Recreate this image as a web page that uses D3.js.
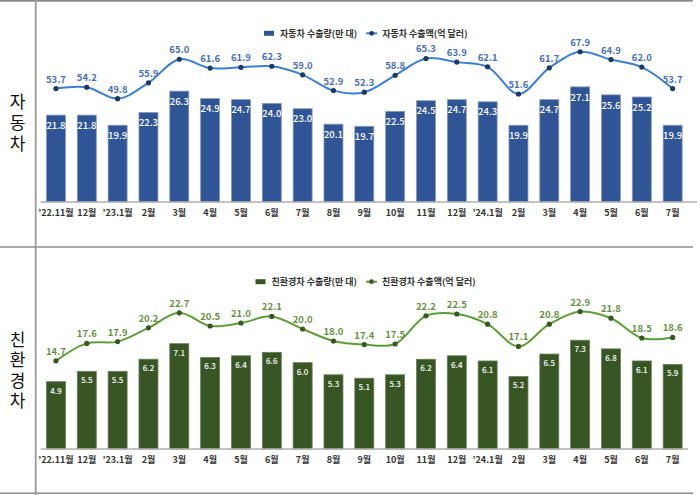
<!DOCTYPE html>
<html><head><meta charset="utf-8">
<script src="https://cdn.jsdelivr.net/npm/d3@7"></script>
<style>
html,body{margin:0;padding:0;background:#fff;}
svg{display:block;font-family:"Noto Sans CJK KR","Noto Sans",sans-serif;}
</style></head>
<body><svg id="c" width="700" height="495"></svg>
<script>
const months = ["’22.11월","12월","’23.1월","2월","3월","4월","5월","6월","7월","8월","9월","10월","11월","12월","’24.1월","2월","3월","4월","5월","6월","7월"];
const carVolume = [21.8,21.8,19.9,22.3,26.3,24.9,24.7,24.0,23.0,20.1,19.7,22.5,24.5,24.7,24.3,19.9,24.7,27.1,25.6,25.2,19.9];
const carValue  = [53.7,54.2,49.8,55.9,65.0,61.6,61.9,62.3,59.0,52.9,52.3,58.8,65.3,63.9,62.1,51.6,61.7,67.9,64.9,62.0,53.7];
const ecoVolume = [4.9,5.5,5.5,6.2,7.1,6.3,6.4,6.6,6.0,5.3,5.1,5.3,6.2,6.4,6.1,5.2,6.5,7.3,6.8,6.1,5.9];
const ecoValue  = [14.7,17.6,17.9,20.2,22.7,20.5,21.0,22.1,20.0,18.0,17.4,17.5,22.2,22.5,20.8,17.1,20.8,22.9,21.8,18.5,18.6];
const sideLabels = ["자동차","친환경차"];
const legendCar = ["자동차 수출량(만 대)","자동차 수출액(억 달러)"];
const legendEco = ["친환경차 수출량(만 대)","친환경차 수출액(억 달러)"];

const svg = d3.select("#c");
const idx = months.map((m,i)=>i);
const x = d3.scaleBand().domain(idx).range([40.6,688]).paddingInner(0.384).paddingOuter(0.19);

// frame
const frameCol = "#8c8c8c";
svg.append("line").attr("x1",0).attr("x2",693).attr("y1",0.8).attr("y2",0.8).attr("stroke",frameCol).attr("stroke-width",1.8);
svg.append("line").attr("x1",0).attr("x2",693).attr("y1",247).attr("y2",247).attr("stroke",frameCol).attr("stroke-width",1.6);
svg.append("line").attr("x1",0).attr("x2",693).attr("y1",493.3).attr("y2",493.3).attr("stroke",frameCol).attr("stroke-width",1.6);
svg.append("line").attr("x1",35.7).attr("x2",35.7).attr("y1",0).attr("y2",495).attr("stroke","#9a9a9a").attr("stroke-width",1.8);

function panel(cfg){
  const g = svg.append("g");
  const yB = d3.scaleLinear().domain(cfg.barDom).range([cfg.base, cfg.top]);
  const yL = d3.scaleLinear().domain(cfg.lineDom).range([cfg.base, cfg.top]);
  // bars
  g.selectAll("rect.bar").data(cfg.vol).join("rect").attr("class","bar")
    .attr("x",(d,i)=>x(i)).attr("width",x.bandwidth())
    .attr("y",d=>yB(d)).attr("height",d=>cfg.base-yB(d))
    .attr("fill",cfg.barCol).attr("stroke",cfg.barStroke).attr("stroke-width",0.8);
  g.selectAll("text.bl").data(cfg.vol).join("text").attr("class","bl")
    .attr("x",(d,i)=>x(i)+x.bandwidth()/2).attr("y",d=>yB(d)+cfg.barLabOff)
    .attr("text-anchor","middle").attr("dominant-baseline","central")
    .attr("fill","#fff").attr("font-size",cfg.barLabSize).attr("font-weight",500)
    .text(d=>d.toFixed(1));
  // axis
  const ax = g.append("g").attr("transform",`translate(0,${cfg.base})`)
    .call(d3.axisBottom(x).tickSize(0).tickFormat(i=>months[i]));
  ax.select(".domain").attr("stroke","#b0b0b0").attr("stroke-width",1.5).attr("d",`M40.6,0H${cfg.axisEnd}`);
  ax.selectAll("text").attr("y",cfg.labY-cfg.base).attr("dy","0.35em")
    .attr("font-size",9).attr("font-weight",700).attr("fill","#333")
    .attr("font-family","\"Noto Sans CJK KR\",sans-serif");
  // line
  const line = d3.line().x((d,i)=>x(i)+x.bandwidth()/2).y(d=>yL(d)).curve(d3.curveCatmullRom.alpha(0.5));
  g.append("path").datum(cfg.val).attr("d",line).attr("fill","none").attr("stroke",cfg.lineCol).attr("stroke-width",2);
  g.selectAll("circle.pt").data(cfg.val).join("circle").attr("class","pt")
    .attr("cx",(d,i)=>x(i)+x.bandwidth()/2).attr("cy",d=>yL(d)).attr("r",2.6).attr("fill",cfg.dotCol);
  g.selectAll("text.ll").data(cfg.val).join("text").attr("class","ll")
    .attr("x",(d,i)=>x(i)+x.bandwidth()/2).attr("y",d=>yL(d)-10)
    .attr("text-anchor","middle").attr("dominant-baseline","central")
    .attr("fill",cfg.lineLabCol).attr("font-size",9.5).attr("font-weight",600)
    .text(d=>d.toFixed(1));
  // legend
  const lg = g.append("g").attr("transform",`translate(0,${cfg.legY})`);
  lg.append("rect").attr("x",cfg.legX).attr("y",-2.5).attr("width",10).attr("height",5).attr("fill",cfg.barCol);
  const t1 = lg.append("text").attr("x",cfg.legX+16).attr("y",0).attr("dominant-baseline","central")
    .attr("font-size",9).attr("font-weight",600).attr("fill","#333").text(cfg.leg[0]);
  const w1 = t1.node().getComputedTextLength();
  const lx = cfg.legX+16+w1+9;
  lg.append("line").attr("x1",lx).attr("x2",lx+11).attr("y1",0).attr("y2",0).attr("stroke",cfg.lineCol).attr("stroke-width",2);
  lg.append("circle").attr("cx",lx+5.5).attr("cy",0).attr("r",2.4).attr("fill",cfg.dotCol);
  lg.append("text").attr("x",lx+16).attr("y",0).attr("dominant-baseline","central")
    .attr("font-size",9).attr("font-weight",600).attr("fill","#333").text(cfg.leg[1]);
  // side label: one vertical text
  g.append("text").attr("x",17.5).attr("y",cfg.sideCy + cfg.sideSp/2)
    .attr("writing-mode","vertical-rl").attr("text-anchor","middle")
    .style("letter-spacing",cfg.sideSp+"px")
    .attr("font-size",17).attr("fill","#111").text(cfg.side);
}

panel({vol:carVolume,val:carValue,base:202,top:30,barDom:[5.5,37.77],lineDom:[9.9,76.3],
  barCol:"#2f5597",barStroke:"#8a9bb8",lineCol:"#3d7fd1",dotCol:"#1f3864",lineLabCol:"#4a6fb3",
  barLabOff:9.7,barLabSize:9.5,labY:212.7,axisEnd:697,legY:33.3,legX:264,leg:legendCar,
  side:sideLabels[0],sideCy:122.5,sideSp:4});
panel({vol:ecoVolume,val:ecoValue,base:449,top:280,barDom:[1,10.79],lineDom:[0,28.17],
  barCol:"#375623",barStroke:"#6b7d5e",lineCol:"#5e9e3a",dotCol:"#385723",lineLabCol:"#6a8f4a",
  barLabOff:8.4,barLabSize:8,labY:460,axisEnd:688,legY:281.7,legX:255.5,leg:legendEco,
  side:sideLabels[1],sideCy:370,sideSp:3.5});
</script></body></html>
